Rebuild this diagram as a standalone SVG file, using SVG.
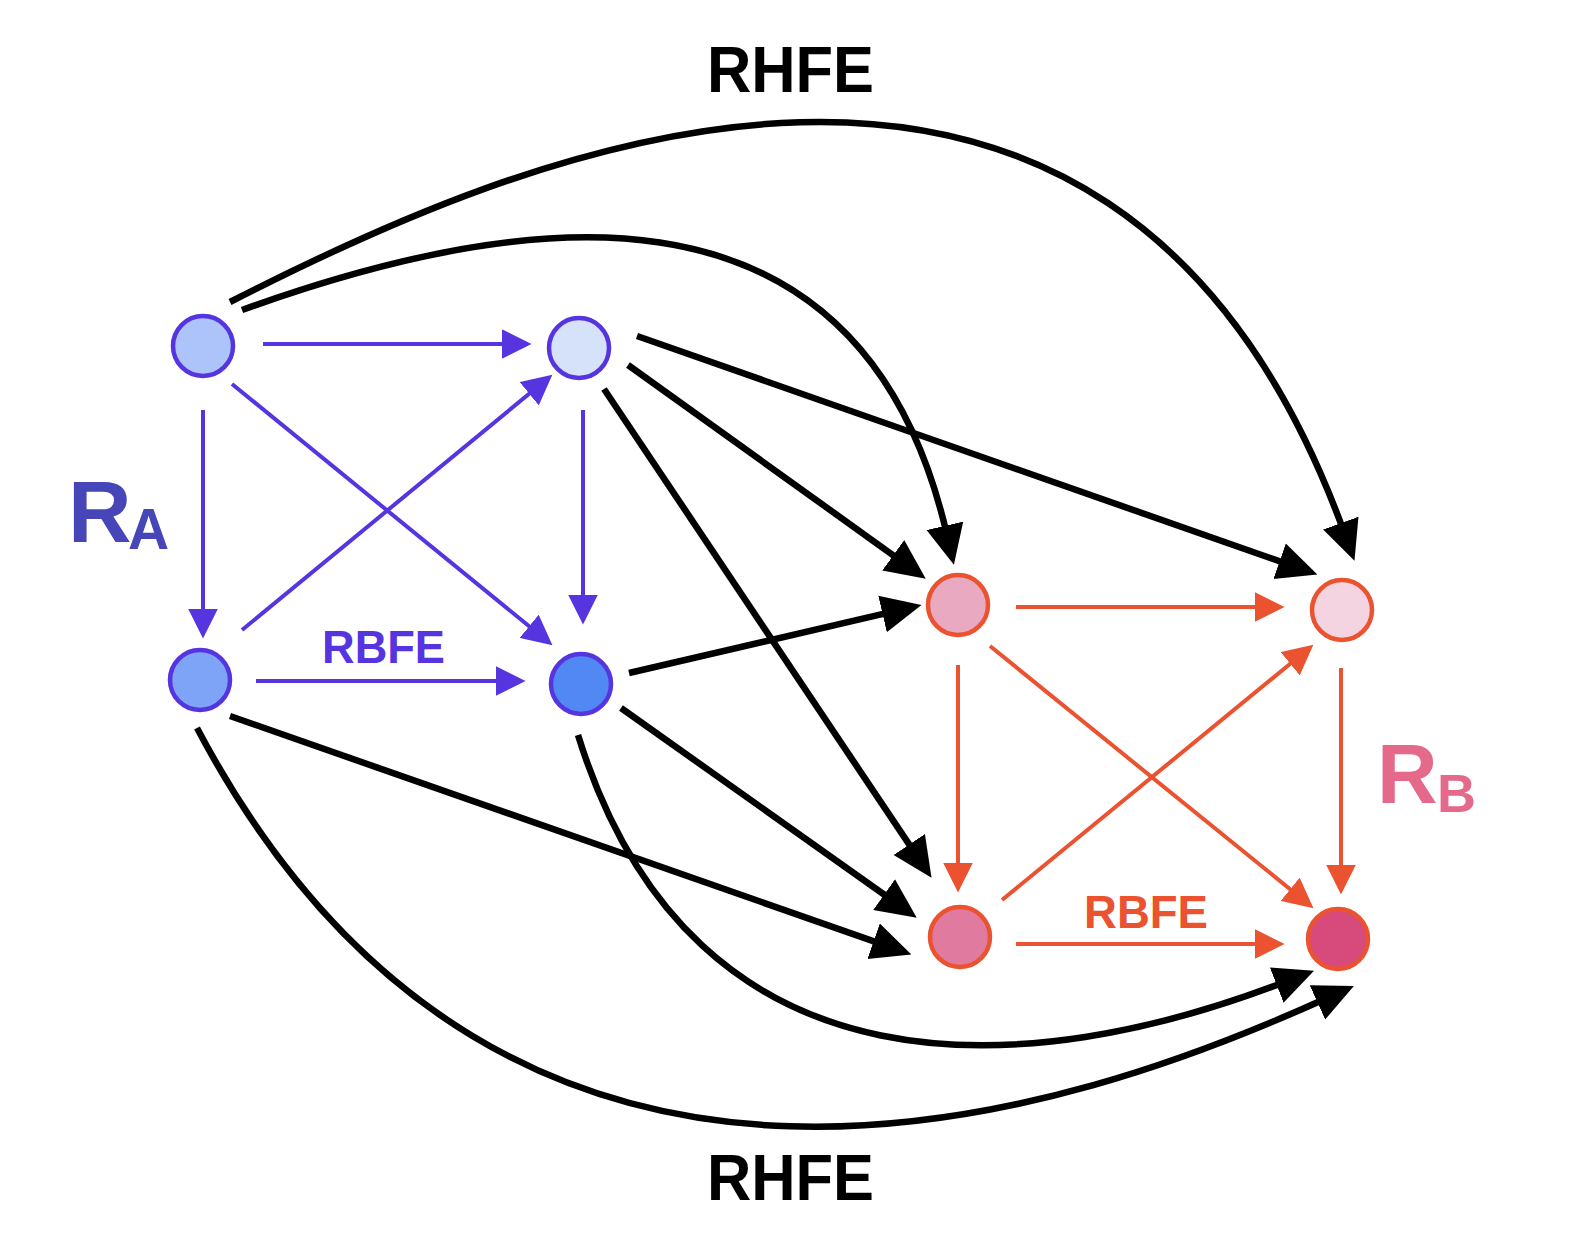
<svg xmlns="http://www.w3.org/2000/svg" width="1570" height="1258" viewBox="0 0 1570 1258">
<style>
.blk{fill:none;stroke:#000;stroke-width:6.5}
.blu{fill:none;stroke:#5634e0;stroke-width:4}
.red{fill:none;stroke:#ea5230;stroke-width:4}
.na{stroke:#5634e0;stroke-width:4.5}
.nb{stroke:#ea5230;stroke-width:4.5}
text{font-family:"Liberation Sans",Arial,sans-serif;font-weight:bold}
</style>
<defs>
<marker id="hk" markerUnits="userSpaceOnUse" markerWidth="40" markerHeight="40" viewBox="0 0 34 32" refX="8" refY="16" orient="auto"><path d="M0,0 L34,16 L0,32 z" fill="#000"/></marker>
<marker id="hb" markerUnits="userSpaceOnUse" markerWidth="30" markerHeight="30" viewBox="0 0 24 24" refX="6" refY="12" orient="auto"><path d="M0,0 L24,12 L0,24 z" fill="#5634e0"/></marker>
<marker id="hr" markerUnits="userSpaceOnUse" markerWidth="30" markerHeight="30" viewBox="0 0 24 24" refX="6" refY="12" orient="auto"><path d="M0,0 L24,12 L0,24 z" fill="#ea5230"/></marker>
</defs>
<rect width="1570" height="1258" fill="#fff"/>
<g id="connectors">
<path class="blu" marker-end="url(#hb)" d="M263,344 L509,344"/>
<path class="blu" marker-end="url(#hb)" d="M203,410 L203,616"/>
<path class="blu" marker-end="url(#hb)" d="M583,410 L583,602"/>
<path class="blu" marker-end="url(#hb)" d="M232,384 L535,631"/>
<path class="blu" marker-end="url(#hb)" d="M242,630 L535,389"/>
<path class="blu" marker-end="url(#hb)" d="M256,681 L503,681"/>
<path class="red" marker-end="url(#hr)" d="M1016,607 L1262,607"/>
<path class="red" marker-end="url(#hr)" d="M1016,944 L1262,944"/>
<path class="red" marker-end="url(#hr)" d="M958,665 L958,870"/>
<path class="red" marker-end="url(#hr)" d="M1341,668 L1341,872"/>
<path class="red" marker-end="url(#hr)" d="M990,646 L1296,894"/>
<path class="red" marker-end="url(#hr)" d="M1002,900 L1296,659"/>
<path class="blk" marker-end="url(#hk)" d="M230,302 C500,164 1108,-116 1344,532"/>
<path class="blk" marker-end="url(#hk)" d="M242,310 C505,215 858,150 947,535"/>
<path class="blk" marker-end="url(#hk)" d="M637,336 L1288.5,564.4"/>
<path class="blk" marker-end="url(#hk)" d="M628,365 L900.9,560.8"/>
<path class="blk" marker-end="url(#hk)" d="M604,389 L914.5,852.4"/>
<path class="blk" marker-end="url(#hk)" d="M629,673 L891.7,611.9"/>
<path class="blk" marker-end="url(#hk)" d="M621,708 L891.8,900"/>
<path class="blk" marker-end="url(#hk)" d="M230,716 L882.5,944.4"/>
<path class="blk" marker-end="url(#hk)" d="M578,735 C694,1110 1034,1079 1285.5,981.7"/>
<path class="blk" marker-end="url(#hk)" d="M197,728 C511,1322 1088,1106 1326,998.5"/>
</g>
<g id="nodeA1"><circle class="na" cx="203" cy="346" r="30" fill="#adc4fa"/></g>
<g id="nodeA2"><circle class="na" cx="579" cy="348" r="30" fill="#d6e1fa"/></g>
<g id="nodeA3"><circle class="na" cx="200" cy="680" r="30" fill="#7ea4f7"/></g>
<g id="nodeA4"><circle class="na" cx="581" cy="684" r="30" fill="#5188f3"/></g>
<g id="nodeB1"><circle class="nb" cx="958" cy="605" r="30" fill="#e8a9c1"/></g>
<g id="nodeB2"><circle class="nb" cx="1342" cy="610" r="30" fill="#f3d4e0"/></g>
<g id="nodeB3"><circle class="nb" cx="960" cy="937" r="30" fill="#e07b9f"/></g>
<g id="nodeB4"><circle class="nb" cx="1338" cy="939" r="30" fill="#d64b7c"/></g>
<g id="labels">
<text x="707" y="92" font-size="64" textLength="167" lengthAdjust="spacingAndGlyphs">RHFE</text>
<text x="707" y="1200" font-size="64" textLength="167" lengthAdjust="spacingAndGlyphs">RHFE</text>
<text x="322" y="663" font-size="46" fill="#5634e0" textLength="123" lengthAdjust="spacingAndGlyphs">RBFE</text>
<text x="1084" y="928" font-size="46" fill="#ea5230" textLength="124" lengthAdjust="spacingAndGlyphs">RBFE</text>
<text x="68" y="542" font-size="88" fill="#4646b8">R<tspan x="128" y="549" font-size="57">A</tspan></text>
<text x="1377" y="803" font-size="84" fill="#e4698a">R<tspan x="1437" y="812" font-size="54">B</tspan></text>
</g>
</svg>
